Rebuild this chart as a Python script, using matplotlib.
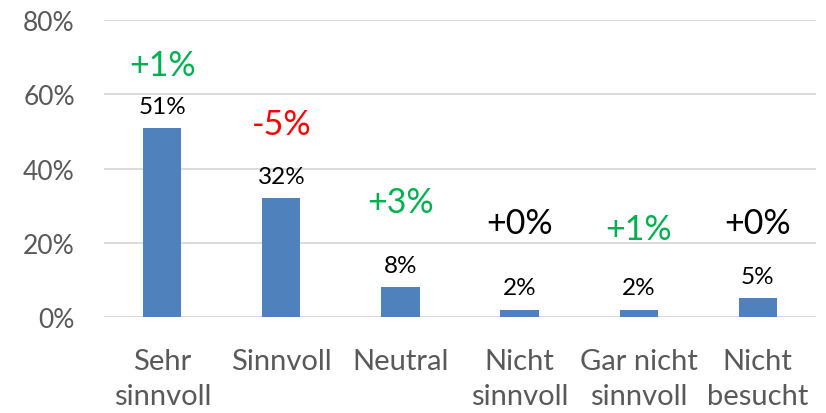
import matplotlib
matplotlib.use("Agg")
import matplotlib.pyplot as plt

categories = ["Sehr\nsinnvoll", "Sinnvoll", "Neutral", "Nicht\nsinnvoll", "Gar nicht\nsinnvoll", "Nicht\nbesucht"]
values = [51, 32, 8, 2, 2, 5]
changes = ["+1%", "-5%", "+3%", "+0%", "+1%", "+0%"]
change_colors = ["#00B050", "#FF0000", "#00B050", "#000000", "#00B050", "#000000"]
# vertical placement of the change labels (in axis percent units)
change_label_y = [68, 52, 31, 25.3, 23.7, 25.3]
yticks = [0, 20, 40, 60, 80]

plt.rcParams['font.family'] = ['Lato', 'DejaVu Sans']

fig = plt.figure(figsize=(8.26, 4.14), dpi=100)
ax = fig.add_axes([104 / 826, 0.232, 712 / 826, 0.717])

x = list(range(len(categories)))
bars = ax.bar(x, values, width=0.32, color="#4F81BD", zorder=3)

ax.set_ylim(0, 80)
ax.set_xlim(-0.49, 5.49)
ax.set_yticks(yticks)
ax.set_yticklabels([f"{t}%" for t in yticks])
ax.set_xticks(x)
ax.set_xticklabels(categories, linespacing=1.45)
ax.tick_params(axis='y', length=0, pad=21, labelsize=19, labelcolor="#595959")
ax.tick_params(axis='x', length=0, pad=22, labelsize=21, labelcolor="#595959")
ax.grid(axis='y', color="#D9D9D9", linewidth=1.3, zorder=0)
for s in ax.spines.values():
    s.set_visible(False)

for xi, v in zip(x, values):
    ax.annotate(f"{v}%", (xi, v), xytext=(0, 8), textcoords="offset points",
                ha="center", va="bottom", fontsize=17.5, color="#000000")

for xi, t, c, ty in zip(x, changes, change_colors, change_label_y):
    ax.text(xi, ty, t, ha="center", va="center", fontsize=24.5, color=c)

fig.savefig("out.png", dpi=100)
